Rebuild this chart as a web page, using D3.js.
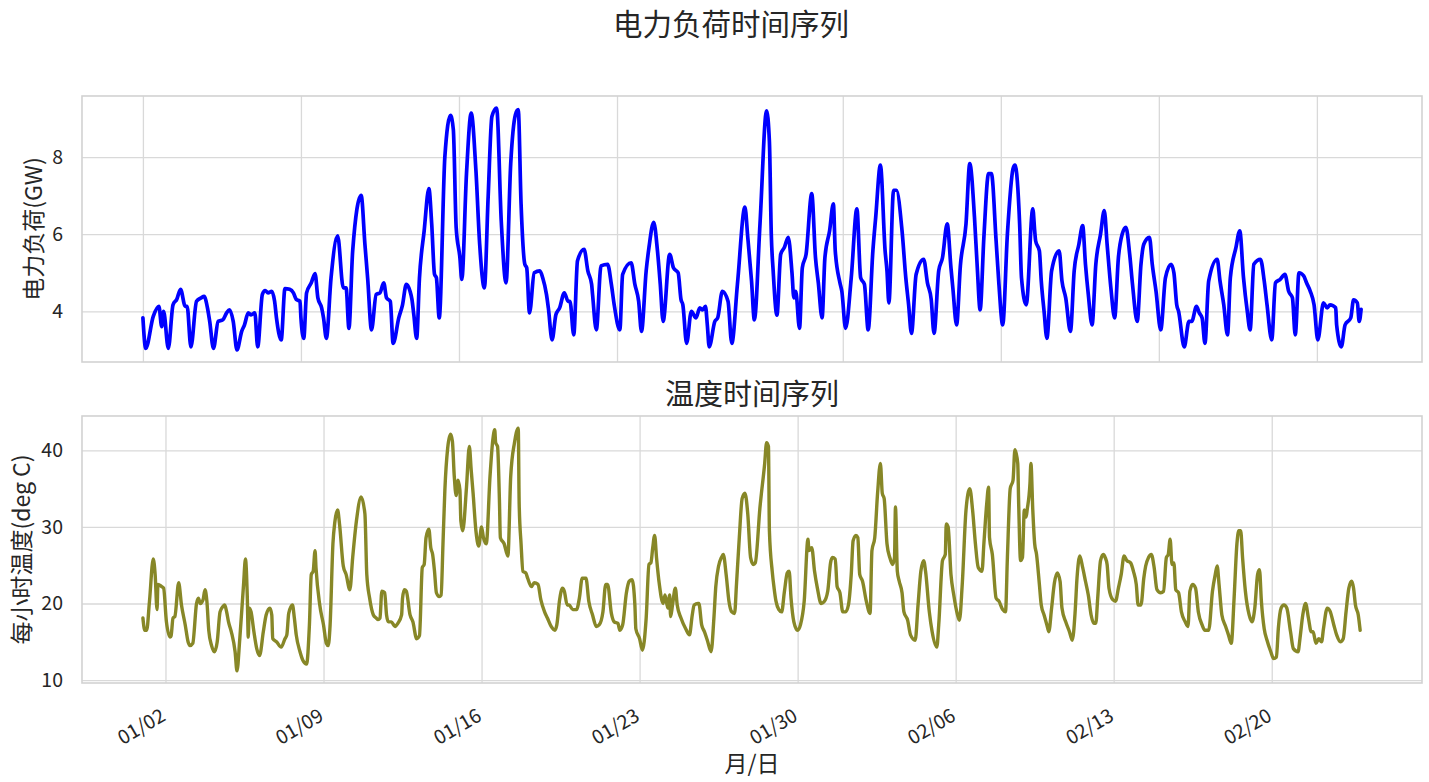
<!DOCTYPE html>
<head>
  <meta charset="utf-8">
  <script src="https://cdn.jsdelivr.net/npm/d3@7/dist/d3.min.js"></script>
</head>

<style>
  body {
    margin: 0;
    background: #ffffff;
  }
  text {
    font-family: "Noto Sans CJK SC", "Noto Sans", sans-serif;
    fill: #262626;
  }
  .grid line {
    stroke: #d9d9d9;
    stroke-width: 1.3;
  }
  .grid path {
    display: none;
  }
</style>
<body>

<script>

// hourly series: [hours since 01/01 00:00, value]
var loadSeries = [
  [0,3.83],[3,3.04],[11,3.87],[17,4.13],[20,3.6],[22,4.0],[27,3.04],[32,4.17],[36,4.31],[40,4.57],
  [45,4.13],[47,4.13],[51,3.08],[57,4.26],[62,4.35],[65,4.39],[69,4.04],[71,3.74],[75,3.04],[80,3.74],
  [85,3.78],[89,3.96],[92,4.04],[96,3.74],[100,3.0],[105,3.48],[108,3.65],[112,3.96],[115,3.91],[119,3.96],
  [122,3.08],[127,4.44],[130,4.54],[133,4.48],[137,4.52],[140,4.26],[142,3.83],[147,3.26],[151,4.59],[156,4.57],
  [160,4.48],[163,4.31],[167,4.26],[168,3.83],[171,3.30],[174,4.48],[179,4.74],[183,4.98],[186,4.35],[190,4.09],
  [192,3.83],[195,3.30],[200,4.87],[207,5.96],[213,4.61],[216,4.61],[219,3.56],[223,5.57],[232,7.01],[236,5.74],
  [239,4.83],[243,3.52],[248,4.44],[252,4.48],[256,4.74],[259,4.35],[263,4.26],[266,3.17],[272,3.83],[276,4.17],
  [280,4.70],[284,4.52],[286,4.31],[288,3.91],[291,3.30],[294,4.87],[299,6.09],[304,7.18],[307,6.27],[310,4.96],
  [312,4.87],[315,3.83],[321,8.01],[327,9.08],[330,8.71],[333,6.18],[337,5.39],[339,4.83],[344,7.57],[349,9.14],
  [354,7.66],[358,5.74],[363,4.61],[367,6.96],[371,9.05],[376,9.27],[381,6.31],[386,4.74],[391,7.83],[396,9.10],
  [399,9.23],[402,6.79],[406,5.22],[408,5.13],[411,3.96],[416,5.0],[422,5.05],[425,4.87],[429,4.44],[431,4.09],
  [435,3.26],[439,3.91],[443,4.09],[448,4.48],[452,4.26],[454,4.26],[458,3.39],[462,5.31],[469,5.61],[473,5.05],
  [477,4.70],[478,4.44],[482,3.52],[487,5.18],[494,5.22],[498,4.70],[501,4.17],[507,3.52],[510,4.96],[519,5.26],
  [523,4.70],[527,4.26],[530,3.48],[535,5.05],[538,5.66],[543,6.31],[547,5.57],[550,4.70],[553,3.74],[560,5.48],
  [564,5.13],[569,5.0],[572,4.31],[574,4.17],[578,3.17],[583,4.0],[588,3.83],[592,4.09],[595,4.04],[598,4.13],
  [600,3.65],[602,3.08],[608,3.74],[611,3.83],[616,4.52],[622,4.26],[626,3.17],[632,4.70],[640,6.70],[643,5.92],
  [647,4.79],[650,3.78],[656,6.27],[663,9.2],[666,8.4],[668,6.0],[670,5.05],[674,3.90],[678,5.48],[682,5.66],
  [686,5.92],[690,5.0],[692,4.35],[694,4.52],[698,3.56],[701,5.13],[705,5.48],[711,7.05],[715,5.39],[718,4.74],
  [722,3.83],[725,5.39],[730,6.09],[734,6.79],[736,5.57],[741,4.74],[743,4.52],[747,3.56],[753,4.87],[759,6.66],
  [763,4.87],[767,4.70],[771,3.52],[776,5.57],[779,6.44],[784,7.79],[789,5.57],[791,5.05],[793,4.22],[798,7.14],
  [801,7.14],[807,6.09],[811,4.87],[814,4.17],[817,3.43],[822,4.96],[830,5.35],[834,4.74],[838,4.31],[841,3.43],
  [846,5.05],[850,5.39],[855,6.27],[859,5.13],[861,4.61],[865,3.65],[869,5.18],[875,6.27],[879,7.83],[884,6.44],
  [887,5.13],[890,4.04],[894,5.92],[899,7.57],[902,7.57],[907,5.83],[910,4.70],[914,3.65],[919,6.0],[925,7.70],
  [927,7.79],[932,6.27],[934,4.87],[939,4.17],[946,6.66],[948,6.09],[949,5.83],[953,5.57],[955,4.79],[958,4.0],
  [961,3.30],[966,5.05],[974,5.57],[977,4.79],[981,4.35],[986,3.48],[990,5.05],[995,5.74],[999,6.22],[1002,5.22],
  [1005,4.44],[1009,3.65],[1013,5.22],[1018,6.0],[1022,6.61],[1025,5.74],[1029,4.61],[1033,3.83],[1037,5.39],[1041,6.0],
  [1045,6.18],[1049,5.48],[1052,4.70],[1057,3.74],[1061,5.22],[1064,5.74],[1070,5.92],[1073,5.22],[1077,4.52],[1082,3.52],
  [1087,4.87],[1093,5.22],[1096,5.0],[1099,4.17],[1101,4.0],[1107,3.08],[1112,3.74],[1115,3.74],[1120,4.13],[1123,3.96],
  [1126,3.83],[1129,3.17],[1133,4.79],[1142,5.35],[1145,4.79],[1149,4.17],[1153,3.39],[1156,4.87],[1162,5.66],[1166,6.09],
  [1170,4.87],[1174,4.0],[1177,3.52],[1181,5.22],[1188,5.35],[1192,4.79],[1195,4.17],[1200,3.26],[1204,4.74],[1209,4.83],
  [1214,4.96],[1218,4.52],[1222,4.35],[1225,3.39],[1229,5.0],[1234,4.92],[1237,4.74],[1241,4.52],[1245,4.17],[1249,3.26],
  [1255,4.22],[1259,4.09],[1262,4.17],[1268,4.09],[1269,3.65],[1274,3.08],[1278,3.65],[1284,3.83],[1287,4.30],[1291,4.22],
  [1293,3.74],[1295,4.05]
];

var tempSeries = [
  [0,18.1],[2,16.5],[4,16.5],[7,20.3],[11,25.8],[13,23.8],[15,19.2],[16,22.5],[20,22.2],[22,22.0],
  [25,17.6],[29,15.6],[30,15.8],[32,18.1],[34,18.3],[38,22.7],[41,19.8],[45,17.2],[48,15.0],[50,14.5],
  [53,14.8],[57,20.0],[59,20.7],[61,20.0],[64,20.5],[66,21.8],[68,20.3],[70,16.5],[73,14.5],[76,13.7],
  [79,15.0],[82,18.9],[85,19.6],[87,19.8],[89,18.9],[91,17.6],[94,16.3],[98,13.7],[100,11.2],[103,15.4],
  [107,22.5],[109,25.8],[111,20.7],[112,15.6],[113,19.4],[115,18.9],[118,16.3],[121,14.1],[124,13.2],[128,16.3],
  [131,18.5],[135,19.4],[137,18.5],[138,15.4],[142,15.0],[147,14.3],[151,15.4],[153,15.9],[155,18.7],[159,19.8],
  [161,18.1],[163,15.9],[167,13.7],[170,12.6],[174,12.1],[177,17.2],[179,23.8],[181,24.2],[183,26.9],[184,24.7],
  [188,19.8],[192,17.2],[195,14.8],[197,14.5],[199,17.2],[202,27.8],[204,30.6],[207,32.2],[209,30.4],[213,24.9],
  [216,23.8],[220,21.8],[223,26.0],[227,30.8],[232,33.9],[236,31.7],[238,23.8],[241,20.7],[245,18.5],[248,18.1],
  [250,17.9],[252,18.1],[254,21.6],[257,21.4],[259,18.5],[261,17.6],[264,17.6],[268,17.0],[271,17.4],[275,18.5],
  [276,20.7],[278,21.8],[280,21.6],[284,18.5],[287,17.6],[291,15.4],[294,15.8],[297,24.7],[299,25.1],[301,28.6],
  [304,29.7],[306,27.3],[308,26.4],[310,24.2],[312,21.4],[315,20.9],[317,21.1],[319,27.8],[321,34.8],[324,40.3],
  [327,42.1],[329,41.2],[331,36.6],[333,34.1],[335,36.1],[337,34.8],[338,30.8],[340,29.5],[344,35.2],[347,40.5],
  [349,37.4],[351,34.4],[354,29.5],[357,27.5],[360,30.0],[362,28.6],[365,27.8],[369,36.6],[372,41.4],[374,42.7],
  [375,41.0],[377,40.5],[379,33.5],[380,28.6],[384,27.8],[388,26.2],[391,36.6],[395,41.0],[399,42.9],[400,33.0],
  [402,27.8],[404,24.2],[407,24.0],[409,23.3],[413,22.2],[416,22.7],[420,22.5],[423,20.5],[427,18.9],[430,18.1],
  [434,17.0],[438,16.5],[440,17.2],[443,20.5],[446,22.0],[448,21.6],[451,19.8],[453,19.8],[457,19.2],[461,19.2],
  [464,20.7],[467,23.3],[471,23.3],[474,20.3],[478,18.5],[482,17.0],[485,17.2],[489,18.9],[492,22.5],[494,22.5],
  [498,18.7],[501,17.6],[505,17.4],[507,16.5],[510,17.2],[514,21.4],[517,22.9],[520,23.1],[523,19.8],[524,16.7],
  [528,15.4],[531,13.9],[535,18.1],[538,25.1],[540,25.3],[542,27.3],[544,28.9],[546,26.0],[549,22.5],[553,20.0],
  [555,21.1],[558,19.4],[560,21.1],[561,18.3],[563,19.8],[566,22.0],[568,19.8],[572,18.1],[577,16.7],[581,15.9],
  [584,18.5],[586,19.8],[590,20.0],[591,20.0],[594,17.2],[597,16.3],[600,15.2],[604,13.7],[607,18.1],[609,22.2],
  [612,24.9],[615,26.0],[617,26.4],[620,23.8],[623,20.3],[626,18.9],[629,18.7],[631,22.5],[634,28.6],[637,33.7],
  [640,34.4],[643,31.7],[646,26.0],[649,25.1],[651,25.3],[656,32.6],[661,38.3],[663,41.0],[665,40.5],[666,29.5],
  [669,24.2],[671,22.0],[673,20.3],[676,19.2],[679,18.9],[682,21.6],[685,24.0],[687,24.2],[689,20.7],[692,17.6],
  [696,16.5],[699,17.2],[703,20.3],[707,28.4],[708,26.9],[711,27.3],[714,24.2],[717,22.0],[721,20.0],[724,20.2],
  [728,21.6],[731,25.3],[733,26.0],[736,25.8],[738,22.2],[741,21.4],[744,18.9],[747,18.9],[750,19.8],[753,23.8],
  [755,28.2],[758,28.9],[760,28.6],[762,23.8],[765,22.9],[769,20.3],[773,18.7],[775,26.9],[778,28.6],[781,34.4],
  [784,38.3],[786,34.4],[788,33.7],[791,27.8],[794,26.0],[797,25.1],[799,26.0],[800,32.6],[802,24.2],[804,22.9],
  [807,21.4],[809,18.9],[813,17.8],[816,15.9],[821,15.2],[824,19.8],[827,24.2],[830,25.6],[832,24.2],[836,18.9],
  [839,16.3],[844,14.3],[846,17.2],[850,25.6],[853,26.4],[854,30.4],[856,30.0],[859,23.8],[862,21.1],[866,18.5],
  [868,17.8],[871,22.5],[875,32.2],[879,35.0],[882,32.2],[885,27.8],[888,24.7],[892,24.2],[894,27.8],[897,33.0],
  [899,35.2],[900,28.6],[903,26.4],[907,20.7],[910,20.3],[914,19.2],[917,18.9],[919,26.0],[922,35.0],[925,36.1],
  [927,40.1],[930,38.3],[931,33.0],[933,25.6],[935,26.0],[937,32.2],[939,31.3],[940,32.2],[943,35.7],[944,38.3],
  [946,32.2],[948,27.8],[950,26.4],[953,22.5],[955,19.8],[958,18.5],[961,17.2],[963,16.3],[966,19.4],[969,22.7],
  [972,24.0],[975,22.9],[977,19.4],[981,17.6],[985,16.3],[988,15.2],[991,18.9],[993,23.3],[996,26.2],[999,24.7],
  [1002,22.9],[1005,21.1],[1008,18.5],[1011,17.4],[1013,17.4],[1015,20.7],[1018,25.6],[1021,26.4],[1023,26.0],[1025,25.1],
  [1027,22.0],[1031,20.5],[1034,20.3],[1037,22.0],[1040,23.8],[1043,26.2],[1046,25.6],[1050,25.3],[1053,24.2],[1056,22.5],
  [1058,19.8],[1061,19.8],[1064,23.3],[1066,24.9],[1069,26.0],[1072,26.4],[1075,24.7],[1078,21.8],[1082,21.4],[1085,21.6],
  [1088,26.0],[1090,26.4],[1092,28.4],[1094,25.1],[1096,25.3],[1098,21.8],[1101,21.4],[1104,18.9],[1108,17.6],[1111,17.0],
  [1113,21.6],[1116,22.5],[1119,22.0],[1122,18.9],[1126,17.2],[1129,16.5],[1133,16.5],[1137,21.6],[1140,23.8],[1142,24.9],
  [1144,22.5],[1147,18.5],[1151,17.0],[1154,15.9],[1157,14.8],[1160,20.7],[1163,27.8],[1165,29.5],[1167,29.5],[1169,26.0],
  [1172,21.6],[1176,18.5],[1179,17.6],[1182,19.4],[1185,23.8],[1187,24.4],[1189,20.3],[1192,16.7],[1195,15.2],[1199,13.7],
  [1202,12.8],[1205,13.0],[1207,16.7],[1210,19.4],[1213,19.8],[1216,19.4],[1220,16.3],[1223,14.1],[1228,13.7],[1230,15.4],
  [1233,18.5],[1236,20.0],[1239,18.1],[1242,16.3],[1244,16.3],[1247,14.8],[1250,15.4],[1253,15.0],[1255,16.7],[1259,19.4],
  [1262,19.0],[1266,17.2],[1269,15.9],[1273,15.0],[1276,15.4],[1279,18.9],[1282,22.0],[1285,22.9],[1287,22.0],[1289,19.8],
  [1292,18.5],[1294,16.5]
];

var loadXTicks = ["01/01", "01/08", "01/15", "01/22", "02/01", "02/08", "02/15", "02/22"];
var tempXTicks = ["01/02", "01/09", "01/16", "01/23", "01/30", "02/06", "02/13", "02/20"];
var loadYTicks = [4, 6, 8];
var tempYTicks = [10, 20, 30, 40];

var width = 1429,
    height = 782,
    axLeft = 82,
    axRight = 1422;

var start = Date.UTC(2014, 0, 1);
var toDate = function(h) { return new Date(start + h * 36e5); };
var parseDay = d3.utcParse("%Y/%m/%d");

var svg = d3.select("body").append("svg")
    .attr("width", width)
    .attr("height", height);

// both panels span the same hours, matplotlib-style 5% margins
var allHours = loadSeries.map(function(d) { return d[0]; }).concat(tempSeries.map(function(d) { return d[0]; }));
var hExt = d3.extent(allHours),
    hPad = (hExt[1] - hExt[0]) * 0.05;

var x = d3.scaleUtc()
    .domain([toDate(hExt[0] - hPad), toDate(hExt[1] + hPad)])
    .range([axLeft, axRight]);

var panels = [
  {series: loadSeries, xTicks: loadXTicks, yTicks: loadYTicks, top: 96, bottom: 362,
   color: "#0000ff", width: 3.7, ylabel: "电力负荷(GW)", ylabelX: 32, showX: false},
  {series: tempSeries, xTicks: tempXTicks, yTicks: tempYTicks, top: 416, bottom: 683,
   color: "#878727", width: 3.4, ylabel: "每小时温度(deg C)", ylabelX: 20, showX: true}
];

panels.forEach(function(p) {
  var vExt = d3.extent(p.series, function(d) { return d[1]; }),
      vPad = (vExt[1] - vExt[0]) * 0.05;

  var y = d3.scaleLinear()
      .domain([vExt[0] - vPad, vExt[1] + vPad])
      .range([p.bottom, p.top]);

  var tickDates = p.xTicks.map(function(t) { return parseDay("2014/" + t); });

  var g = svg.append("g");

  // vertical grid
  g.append("g")
      .attr("class", "grid")
      .attr("transform", "translate(0," + p.bottom + ")")
      .call(d3.axisBottom(x).tickValues(tickDates).tickSize(-(p.bottom - p.top)).tickFormat(""));

  // horizontal grid + y tick labels
  g.append("g")
      .attr("class", "grid")
      .attr("transform", "translate(" + axLeft + ",0)")
      .call(d3.axisLeft(y).tickValues(p.yTicks).tickSize(-(axRight - axLeft)).tickPadding(19).tickFormat(d3.format("d")))
      .selectAll("text")
        .style("font-size", "19.5px")
        .attr("fill", "#262626");

  var line = d3.line()
      .x(function(d) { return x(toDate(d[0])); })
      .y(function(d) { return y(d[1]); })
      .curve(d3.curveMonotoneX);

  g.append("path")
      .datum(p.series)
      .attr("d", line)
      .attr("fill", "none")
      .attr("stroke", p.color)
      .attr("stroke-width", p.width)
      .attr("stroke-linejoin", "round")
      .attr("stroke-linecap", "round");

  // frame
  g.append("rect")
      .attr("x", axLeft)
      .attr("y", p.top)
      .attr("width", axRight - axLeft)
      .attr("height", p.bottom - p.top)
      .attr("fill", "none")
      .attr("stroke", "#d2d2d2")
      .attr("stroke-width", 1.6);

  g.append("text")
      .attr("transform", "translate(" + p.ylabelX + "," + ((p.top + p.bottom) / 2) + ") rotate(-90)")
      .attr("text-anchor", "middle")
      .attr("dominant-baseline", "central")
      .style("font-size", "23px")
      .text(p.ylabel);

  if (p.showX) {
    g.selectAll(".xlab")
        .data(tickDates)
      .enter().append("text")
        .attr("class", "xlab")
        .attr("transform", function(d) { return "translate(" + (x(d) - 6) + "," + (p.bottom + 24) + ") rotate(-30)"; })
        .attr("text-anchor", "end")
        .attr("dy", "0.75em")
        .style("font-size", "19.5px")
        .text(function(d, i) { return p.xTicks[i]; });
  }
});

svg.append("text")
    .attr("x", 731)
    .attr("y", 35)
    .attr("text-anchor", "middle")
    .style("font-size", "29.5px")
    .text("电力负荷时间序列");

svg.append("text")
    .attr("x", (axLeft + axRight) / 2)
    .attr("y", 405)
    .attr("text-anchor", "middle")
    .style("font-size", "29px")
    .text("温度时间序列");

svg.append("text")
    .attr("x", (axLeft + axRight) / 2)
    .attr("y", 772)
    .attr("text-anchor", "middle")
    .style("font-size", "23px")
    .text("月/日");

</script>
</body>
